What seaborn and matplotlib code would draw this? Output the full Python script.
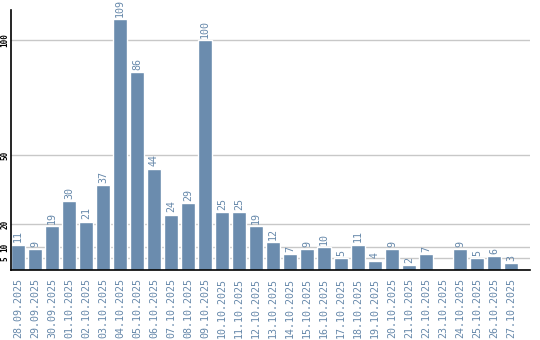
import matplotlib
matplotlib.use("Agg")
import matplotlib.pyplot as plt
import seaborn as sns
import pandas as pd

dates = ["28.09.2025", "29.09.2025", "30.09.2025", "01.10.2025", "02.10.2025",
         "03.10.2025", "04.10.2025", "05.10.2025", "06.10.2025", "07.10.2025",
         "08.10.2025", "09.10.2025", "10.10.2025", "11.10.2025", "12.10.2025",
         "13.10.2025", "14.10.2025", "15.10.2025", "16.10.2025", "17.10.2025",
         "18.10.2025", "19.10.2025", "20.10.2025", "21.10.2025", "22.10.2025",
         "23.10.2025", "24.10.2025", "25.10.2025", "26.10.2025", "27.10.2025"]
values = [11, 9, 19, 30, 21, 37, 109, 86, 44, 24, 29, 100, 25, 25, 19,
          12, 7, 9, 10, 5, 11, 4, 9, 2, 7, 0, 9, 5, 6, 3]
yticks = [5, 10, 20, 50, 100]

df = pd.DataFrame({"date": dates, "value": values})

sns.set_style("white")
plt.rcParams['font.family'] = ['DejaVu Sans Mono', 'DejaVu Sans']

bar_color = "#6b8cae"
text_color = "#6688aa"

fig = plt.figure(figsize=(5.4, 3.4), dpi=100)
ax = fig.add_axes([11/540, 70/340, 519/540, 260/340])

for y in yticks:
    ax.axhline(y, color="#c8c8c8", linewidth=1, zorder=0)

sns.barplot(data=df, x="date", y="value", color=bar_color, width=0.82,
            saturation=1, ax=ax, zorder=2)

for i, v in enumerate(values):
    if v > 0:
        ax.text(i, v + 1, str(v), rotation=90, ha="center", va="bottom",
                color=text_color, fontsize=7.2)

ax.set_xlim(-0.41, 30.12)
ax.set_ylim(0, 113)
ax.set_yticks(yticks)
ax.set_yticklabels([str(t) for t in yticks], rotation=90, va="center",
                   fontsize=5.5, fontweight="bold", color="black")
ax.tick_params(axis="y", length=0, pad=1)
ax.tick_params(axis="x", length=0, pad=6)
ax.set_xticks(range(len(dates)))
ax.set_xticklabels(dates, rotation=90, fontsize=7.2, color=text_color)
ax.set_xlabel("")
ax.set_ylabel("")
for s in ["top", "right"]:
    ax.spines[s].set_visible(False)
ax.spines["left"].set_color("black")
ax.spines["bottom"].set_color("black")
ax.spines["left"].set_linewidth(1.2)
ax.spines["bottom"].set_linewidth(1.2)

fig.savefig("out.png", dpi=100)
